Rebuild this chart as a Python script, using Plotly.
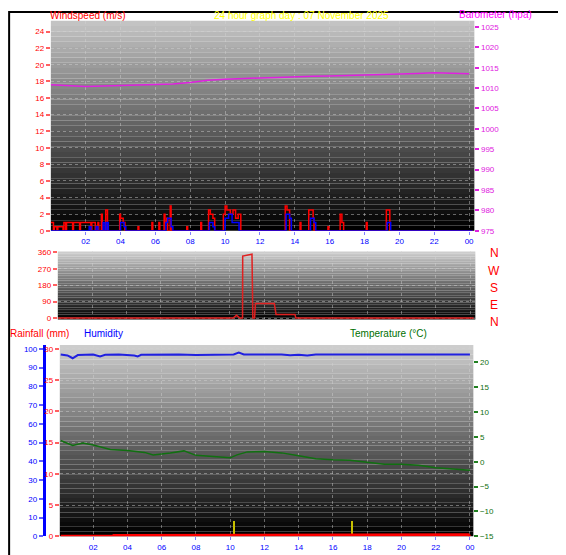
import plotly.graph_objects as go

# ---- data ----
gust_t = [0, 0.15, 0.2, 0.35, 0.4, 0.7, 0.75, 0.85, 0.9, 1.25, 1.3, 1.65, 1.7, 2.1, 2.3, 2.35, 2.5, 2.55, 2.7, 2.75, 2.9, 2.95, 3.15, 3.25,
          3.95, 4.0, 4.15, 4.25, 5.0, 5.05, 5.8, 5.85, 6.2, 6.25, 6.5, 6.55, 6.65, 6.7, 6.85, 6.9, 7.8, 7.85, 8.6, 8.65,
          9.05, 9.15, 9.3, 9.4, 9.9, 10.0, 10.1, 10.3, 10.45, 10.6, 10.75, 10.9, 13.45, 13.55, 13.7, 14.3, 14.35,
          14.8, 14.9, 15.05, 15.1, 15.9, 15.95, 16.6, 16.7, 16.8, 18.1, 18.15, 19.25, 19.3, 19.45, 24.2]
gust_v = [1, 0, 0.5, 0, 0.5, 0, 1, 0, 1, 0, 1, 0, 1, 1, 0, 1, 1, 0, 1, 0, 2, 0, 2.5, 0,
          2, 1.5, 1, 0, 0.5, 0, 1, 0, 1, 0, 2, 1, 1.5, 0, 3, 0, 0.5, 0, 1, 0,
          2.5, 2, 1.5, 0, 2, 3, 2.5, 2, 2.5, 1.5, 2, 0, 3, 2.5, 0, 1, 0,
          2.5, 2.5, 1.5, 0, 0.5, 0, 2, 1, 0, 1, 0, 2.5, 2.5, 0, 0]
avg_t = [0, 2.2, 2.3, 2.6, 2.7, 3.0, 3.1, 3.2, 3.3, 4.0, 4.2, 4.3, 6.6, 6.7, 6.9, 7.0, 9.1, 9.3, 9.4, 10.0, 10.2, 10.4, 10.6, 10.8,
         13.5, 13.7, 13.8, 14.9, 15.1, 15.2, 19.3, 19.4, 19.5, 24.2]
avg_v = [0, 0.5, 0, 0.5, 0, 1, 0, 1, 0, 1, 0.5, 0, 1, 1.5, 0.5, 0, 1, 0.5, 0, 1.5, 2, 1, 1, 0,
         2, 1.5, 0, 1.5, 1, 0, 1, 1, 0, 0]
baro_t = [0, 1, 2, 3, 4, 5, 6, 7, 8, 9, 10, 11, 12, 13, 14, 15, 16, 17, 18, 19, 20, 21, 22, 23, 24]
baro_v = [1010.8, 1010.6, 1010.4, 1010.5, 1010.6, 1010.7, 1010.8, 1011.0, 1011.4, 1011.9, 1012.2, 1012.4, 1012.5, 1012.6,
          1012.8, 1012.9, 1013.0, 1013.1, 1013.2, 1013.4, 1013.5, 1013.6, 1013.8, 1013.7, 1013.5]
dir_t = [0, 10.2, 10.4, 10.6, 10.75, 10.76, 11.3, 11.35, 11.45, 11.5, 12.6, 12.7, 13.8, 13.85, 24.2]
dir_v = [0, 0, 15, 0, 0, 340, 350, 0, 0, 80, 80, 20, 20, 0, 0]
temp_t = [0.1, 0.8, 1.4, 2, 3, 4, 5, 5.5, 6.5, 7.3, 8, 9, 10, 10.4, 11, 12, 13, 14, 15, 16, 17, 18, 19, 20, 21, 22, 23, 24]
temp_v = [4.3, 3.3, 3.8, 3.4, 2.5, 2.3, 1.9, 1.4, 1.8, 2.2, 1.3, 1.0, 0.8, 1.4, 2.0, 2.1, 1.8, 1.2, 0.6, 0.4, 0.3,
          -0.1, -0.5, -0.5, -0.7, -1.2, -1.5, -1.7]
hum_t = [0.1, 0.5, 0.8, 1.1, 2, 2.4, 2.7, 3.5, 4.4, 4.6, 4.8, 6, 7, 8, 9, 10.2, 10.5, 10.8, 13, 13.5, 14, 14.5, 15, 24]
hum_v = [97, 96.5, 95, 96.7, 97, 96, 96.8, 97, 96.5, 96, 96.8, 97, 97, 96.7, 96.8, 97, 98, 97, 97, 96.6, 96.9, 96.5, 97, 97]
rain_t = [0.1, 3.2, 3.21, 5.0, 5.01, 23.9, 24.0]
rain_v = [0, 0, 0.15, 0.15, 0.25, 0.25, 0]
rate_t = [10.2, 17.1]
rate_v = [2.5, 2.5]
x_ticks = [2, 4, 6, 8, 10, 12, 14, 16, 18, 20, 22, 24]
x_labels = ["02", "04", "06", "08", "10", "12", "14", "16", "18", "20", "22", "00"]
compass = ["N", "W", "S", "E", "N"]

W, H = 566, 555
def px(x): return x / W
def py(y): return 1 - y / H

P1 = dict(x=(43, 468), y=(10, 223))
P2 = dict(x=(50, 469), y=(244, 313))
P3 = dict(x=(52, 467), y=(339, 533))

fig = go.Figure()
F = "Liberation Sans"
fig.add_trace(go.Scatter(x=baro_t, y=baro_v, xaxis="x", yaxis="y2", mode="lines", line=dict(color="#e020e0", width=1.5)))
fig.add_trace(go.Scatter(x=gust_t, y=gust_v, xaxis="x", yaxis="y", mode="lines", line=dict(color="#ff0000", width=1.5, shape="hv")))
fig.add_trace(go.Scatter(x=avg_t, y=avg_v, xaxis="x", yaxis="y", mode="lines", line=dict(color="#0000ff", width=1.5, shape="hv")))
fig.add_trace(go.Scatter(x=dir_t, y=dir_v, xaxis="x2", yaxis="y3", mode="lines", line=dict(color="#e02020", width=1.5)))
fig.add_trace(go.Bar(x=rate_t, y=rate_v, xaxis="x3", yaxis="y4", width=0.05, marker=dict(color="#c8c000", line_width=0)))
fig.add_trace(go.Scatter(x=temp_t, y=temp_v, xaxis="x3", yaxis="y6", mode="lines", line=dict(color="#107010", width=1.5)))
fig.add_trace(go.Scatter(x=hum_t, y=hum_v, xaxis="x3", yaxis="y5", mode="lines", line=dict(color="#2020e0", width=2)))
fig.add_trace(go.Scatter(x=rain_t, y=rain_v, xaxis="x3", yaxis="y4", mode="lines", line=dict(color="#ff0000", width=3)))

grid = dict(showgrid=True, gridcolor="rgba(210,210,210,0.45)", griddash="dot", gridwidth=1, zeroline=False)
tickf = lambda c: dict(size=8, color=c, family=F)

shapes = []
N = 40
for P, top, bot in [(P1, 195, 0), (P2, 205, 0), (P3, 205, 0)]:
    y0, y1 = P["y"]
    for i in range(N):
        c = int(top + (bot - top) * i / (N - 1))
        shapes.append(dict(type="rect", xref="paper", yref="paper", layer="below", line_width=0,
                           x0=px(P["x"][0]), x1=px(P["x"][1]),
                           y0=py(y0 + (y1 - y0) * (i + 1) / N), y1=py(y0 + (y1 - y0) * i / N),
                           fillcolor=f"rgb({c},{c},{c})"))
shapes.append(dict(type="rect", xref="paper", yref="paper", x0=0.002, x1=0.998, y0=0.002, y1=0.998,
                   line=dict(color="black", width=2)))

fig.update_layout(
    width=W, height=H, margin=dict(l=0, r=0, t=0, b=0), paper_bgcolor="white", plot_bgcolor="rgba(0,0,0,0)",
    showlegend=False, shapes=shapes, bargap=0,
    xaxis=dict(domain=[px(43), px(468)], range=[0, 24.3], anchor="y", tickvals=x_ticks, ticktext=x_labels,
               tickfont=tickf("#0000ff"), ticks="outside", ticklen=3, tickcolor="#8080ff", **grid),
    yaxis=dict(domain=[py(223), py(10)], range=[0, 25.3], anchor="x", dtick=2, tickfont=tickf("#ff0000"),
               ticks="outside", ticklen=4, tickcolor="#ff6060", tickwidth=2, **grid),
    yaxis2=dict(overlaying="y", side="right", range=[975, 1026.5], dtick=5, anchor="x", tickfont=tickf("#e020e0"),
                ticks="outside", ticklen=4, tickcolor="#e020e0", tickwidth=2, showgrid=False, zeroline=False),
    xaxis2=dict(domain=[px(50), px(469)], range=[0, 24.3], anchor="y3", tickvals=x_ticks, showticklabels=False, **grid),
    yaxis3=dict(domain=[py(313), py(244)], range=[-8, 365], anchor="x2", tickvals=[0, 90, 180, 270, 360],
                tickfont=tickf("#ff0000"), ticks="outside", ticklen=4, tickcolor="#ff6060", tickwidth=2, **grid),
    xaxis3=dict(domain=[px(52), px(467)], range=[0.05, 24.2], anchor="y4", tickvals=x_ticks, ticktext=x_labels,
                tickfont=tickf("#0000ff"), ticks="outside", ticklen=3, tickcolor="#8080ff", **grid),
    yaxis4=dict(domain=[py(533), py(339)], range=[0, 30.6], anchor="x3", dtick=5, tickfont=tickf("#ff0000"),
                ticks="outside", ticklen=4, tickcolor="#ff6060", tickwidth=2, **grid),
    yaxis5=dict(overlaying="y4", range=[0, 102], dtick=10, anchor="free", position=px(36), side="left",
                tickfont=tickf("#0000ff"), ticks="outside", ticklen=4, tickcolor="#6060ff", tickwidth=2,
                showline=True, linecolor="#0000ff", linewidth=3, showgrid=False, zeroline=False),
    yaxis6=dict(overlaying="y4", side="right", range=[-15, 23.5], dtick=5, anchor="x3", tickfont=tickf("#107010"),
                ticks="outside", ticklen=4, tickcolor="#208020", tickwidth=2, showgrid=False, zeroline=False),
)

ann = [
    ("Windspeed (m/s)", 40, 5, "#ff0000", "left"),
    ("24 hour graph day : 07 November 2025", 295, 5, "#ffff00", "center"),
    ("Barometer (hpa)", 528, 4, "#ff00ff", "right"),
    ("Rainfall (mm)", 0, 327, "#ff0000", "left"),
    ("Humidity", 74, 327, "#0000ff", "left"),
    ("Temperature (°C)", 422, 327, "#007000", "right"),
]
for t, x, y, c, a in ann:
    fig.add_annotation(text=t, x=px(x), y=py(y), xref="paper", yref="paper", showarrow=False,
                       xanchor=a, yanchor="middle", font=dict(size=10, color=c, family=F))
for i, lab in enumerate(compass):
    fig.add_annotation(text=lab, x=px(488), y=py(246 + i * 17.3), xref="paper", yref="paper", showarrow=False,
                       xanchor="center", yanchor="middle", font=dict(size=12, color="#ff0000", family=F))

fig.write_html("out.html")
